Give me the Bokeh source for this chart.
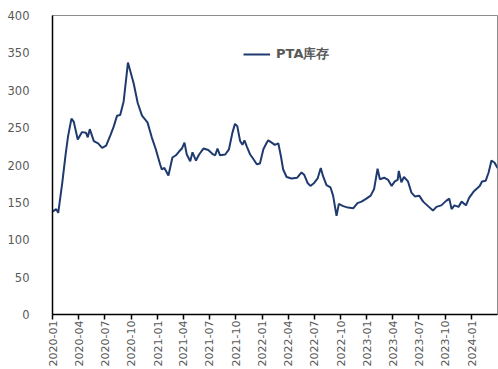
from datetime import datetime
from bokeh.plotting import figure
from bokeh.models import (ColumnDataSource, Range1d, MonthsTicker, DatetimeTickFormatter,
                          Legend, LegendItem)
from bokeh.embed import file_html
from bokeh.resources import INLINE

dates = [
    "2020-01-02", "2020-01-14", "2020-01-21", "2020-02-04", "2020-02-15", "2020-02-24",
    "2020-03-07", "2020-03-15", "2020-03-29", "2020-04-13", "2020-04-27", "2020-05-03",
    "2020-05-10", "2020-05-24", "2020-06-08", "2020-06-22", "2020-07-06", "2020-07-21",
    "2020-08-01", "2020-08-13", "2020-08-24", "2020-09-05", "2020-09-20", "2020-10-10",
    "2020-10-24", "2020-11-08", "2020-11-27", "2020-12-12", "2020-12-26", "2021-01-10",
    "2021-01-16", "2021-01-25", "2021-02-08", "2021-02-22", "2021-03-06", "2021-03-17",
    "2021-03-27", "2021-04-05", "2021-04-13", "2021-04-25", "2021-05-03", "2021-05-15",
    "2021-05-26", "2021-06-10", "2021-06-27", "2021-07-11", "2021-07-21", "2021-07-29",
    "2021-08-07", "2021-08-25", "2021-09-07", "2021-09-19", "2021-09-28", "2021-10-06",
    "2021-10-16", "2021-10-24", "2021-10-31", "2021-11-08", "2021-11-20", "2021-12-01",
    "2021-12-13", "2021-12-24", "2022-01-05", "2022-01-17", "2022-01-22", "2022-02-03",
    "2022-02-14", "2022-02-26", "2022-03-07", "2022-03-15", "2022-03-27", "2022-04-13",
    "2022-05-03", "2022-05-18", "2022-05-27", "2022-06-08", "2022-06-18", "2022-07-01",
    "2022-07-13", "2022-07-24", "2022-08-01", "2022-08-13", "2022-08-27", "2022-09-05",
    "2022-09-17", "2022-09-25", "2022-10-10", "2022-10-27", "2022-11-14", "2022-11-29",
    "2022-12-13", "2022-12-30", "2023-01-14", "2023-01-26", "2023-02-07", "2023-02-15",
    "2023-03-02", "2023-03-16", "2023-03-28", "2023-04-08", "2023-04-18", "2023-04-22",
    "2023-05-01", "2023-05-10", "2023-05-24", "2023-06-05", "2023-06-17", "2023-07-02",
    "2023-07-16", "2023-08-02", "2023-08-19", "2023-08-31", "2023-09-17", "2023-10-04",
    "2023-10-15", "2023-10-23", "2023-11-02", "2023-11-16", "2023-11-27", "2023-12-12",
    "2023-12-23", "2024-01-09", "2024-01-29", "2024-02-06", "2024-02-19", "2024-02-29",
    "2024-03-10", "2024-03-21", "2024-03-31",
]
pta_stock = [
    138, 141, 136, 176, 212, 238,
    262, 258, 234, 244, 243, 237,
    248, 232, 229, 223, 226, 240,
    251, 266, 267, 285, 337, 309,
    283, 266, 257, 237, 221, 201,
    194, 196, 186, 210, 213, 218,
    222, 230, 214, 205, 217, 206,
    214, 222, 220, 215, 213, 222,
    213, 214, 221, 243, 255, 252,
    232, 227, 233, 225, 214, 208,
    201, 202, 221, 230, 233, 230,
    227, 229, 212, 194, 184, 182,
    183, 190, 187, 176, 172, 176,
    182, 196, 185, 173, 170, 159,
    132, 148, 145, 143, 142, 149,
    151, 155, 159, 168, 195, 181,
    183, 180, 172, 178, 180, 192,
    177, 184, 178, 163, 158, 159,
    151, 145, 139, 144, 146, 152,
    155, 141, 146, 144, 151, 146,
    156, 165, 172, 178, 179, 190,
    206, 203, 196,
]
series_name = "PTA库存"
y_ticks = [0, 50, 100, 150, 200, 250, 300, 350, 400]

x = [datetime.strptime(d, "%Y-%m-%d") for d in dates]
src = ColumnDataSource(dict(x=x, y=pta_stock))

p = figure(width=498, height=369, output_backend="svg", toolbar_location=None,
           x_axis_type="datetime",
           x_range=Range1d(datetime(2020, 1, 1), datetime(2024, 3, 31)),
           y_range=Range1d(0, 400),
           min_border_left=52, min_border_top=15, min_border_right=1, min_border_bottom=53)
p.background_fill_color = "white"
p.border_fill_color = "white"
p.outline_line_color = "#8c8c8c"
p.outline_line_width = 1
p.xgrid.visible = False
p.ygrid.visible = False

r = p.line("x", "y", source=src, line_color="#1f3a6e", line_width=2)

xa = p.xaxis[0]
xa.ticker = MonthsTicker(months=[0, 3, 6, 9])
xa.formatter = DatetimeTickFormatter(months="%Y-%m", days="%Y-%m", years="%Y-%m")
xa.major_label_orientation = 1.5708
xa.major_label_text_font = "DejaVu Sans"
xa.major_label_text_font_size = "11px"
xa.major_label_text_color = "#595959"
xa.axis_line_color = "black"
xa.axis_line_width = 1.5
xa.major_tick_line_color = "black"
xa.major_tick_line_width = 1.5
xa.major_tick_out = 5
xa.major_tick_in = 0
xa.minor_tick_line_color = None
xa.major_label_standoff = 1

ya = p.yaxis[0]
ya.ticker = y_ticks
ya.major_label_text_font = "DejaVu Sans"
ya.major_label_text_font_size = "11.5px"
ya.major_label_text_color = "#595959"
ya.axis_line_color = "black"
ya.axis_line_width = 1.5
ya.major_tick_line_color = None
ya.minor_tick_line_color = None
ya.major_label_standoff = 17

legend = Legend(items=[LegendItem(label=series_name, renderers=[r])],
                location=(191, 251), orientation="horizontal",
                glyph_width=27, glyph_height=16, label_standoff=6,
                padding=0, margin=0, spacing=0,
                background_fill_alpha=0, border_line_alpha=0,
                label_text_font="DejaVu Sans", label_text_font_style="bold",
                label_text_font_size="13px", label_text_color="#595959")
p.add_layout(legend, "center")

open("out.html", "w").write(file_html(p, INLINE))
